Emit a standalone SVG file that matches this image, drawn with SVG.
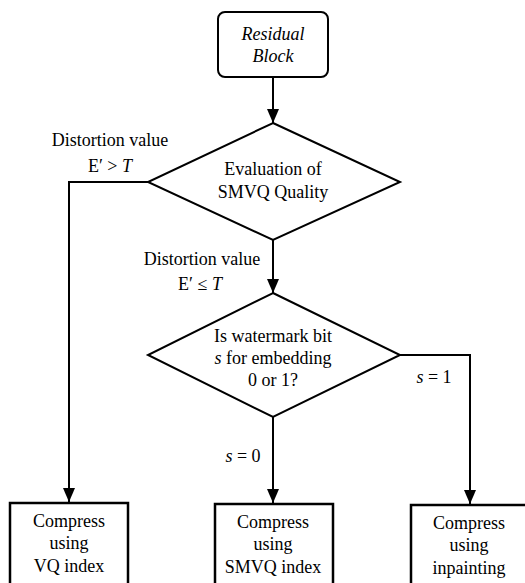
<svg xmlns="http://www.w3.org/2000/svg" width="525" height="583" viewBox="0 0 525 583">
<defs>
<style>
.s{fill:none;stroke:#000;stroke-width:2}
.n{fill:#fff;stroke:#000;stroke-width:2}
.b{fill:#fff;stroke:#000;stroke-width:2.5}
text{font-family:"Liberation Serif","DejaVu Serif",serif;font-size:18px;fill:#000}
.c{text-anchor:middle}
.i{font-style:italic}
</style>
<marker id="ah" viewBox="0 0 14 12" refX="14" refY="6" markerWidth="7" markerHeight="6" markerUnits="strokeWidth" orient="auto">
<path d="M0,0 L14,6 L0,12 z" fill="#000"/>
</marker>
</defs>
<g id="connectors">
<line class="s" x1="273" y1="77" x2="273" y2="123" marker-end="url(#ah)"/>
<line class="s" x1="273" y1="240" x2="273" y2="293" marker-end="url(#ah)"/>
<polyline class="s" points="148,182 69,182 69,502" marker-end="url(#ah)"/>
<line class="s" x1="273" y1="417" x2="273" y2="503" marker-end="url(#ah)"/>
<polyline class="s" points="400,355 470,355 470,504" marker-end="url(#ah)"/>
<text class="c" x="110" y="146" font-family="Liberation Serif, serif">Distortion value</text>
<text class="c" x="110" y="172">E′ &gt; <tspan class="i">T</tspan></text>
<text class="c" x="202" y="265">Distortion value</text>
<text class="c" x="200" y="290">E′ ≤ <tspan class="i">T</tspan></text>
<text class="c" x="243" y="462"><tspan class="i">s</tspan> = 0</text>
<text class="c" x="434" y="383"><tspan class="i">s</tspan> = 1</text>
</g>
<g id="residual">
<rect class="n" x="218" y="12" width="110" height="65" rx="7"/>
<text class="c i" x="273" y="40">Residual</text>
<text class="c i" x="273" y="62">Block</text>
</g>
<g id="eval">
<polygon class="n" points="273,123 400,182 273,240 148,182"/>
<text class="c" x="273" y="175">Evaluation of</text>
<text class="c" x="273" y="198">SMVQ Quality</text>
</g>
<g id="watermark">
<polygon class="n" points="273,293 400,355 273,417 148,355"/>
<text class="c" x="273" y="342">Is watermark bit</text>
<text class="c" x="273" y="364"><tspan class="i">s</tspan> for embedding</text>
<text class="c" x="273" y="386">0 or 1?</text>
</g>
<g id="vq">
<rect class="b" x="10" y="503" width="118" height="90"/>
<text class="c" x="69" y="527">Compress</text>
<text class="c" x="69" y="549">using</text>
<text class="c" x="69" y="572">VQ index</text>
</g>
<g id="smvq">
<rect class="b" x="215" y="504" width="118" height="90"/>
<text class="c" x="273" y="528">Compress</text>
<text class="c" x="273" y="550">using</text>
<text class="c" x="273" y="573">SMVQ index</text>
</g>
<g id="inpaint">
<rect class="b" x="411" y="505" width="118" height="90"/>
<text class="c" x="469" y="529">Compress</text>
<text class="c" x="469" y="551">using</text>
<text class="c" x="469" y="574">inpainting</text>
</g>
</svg>
